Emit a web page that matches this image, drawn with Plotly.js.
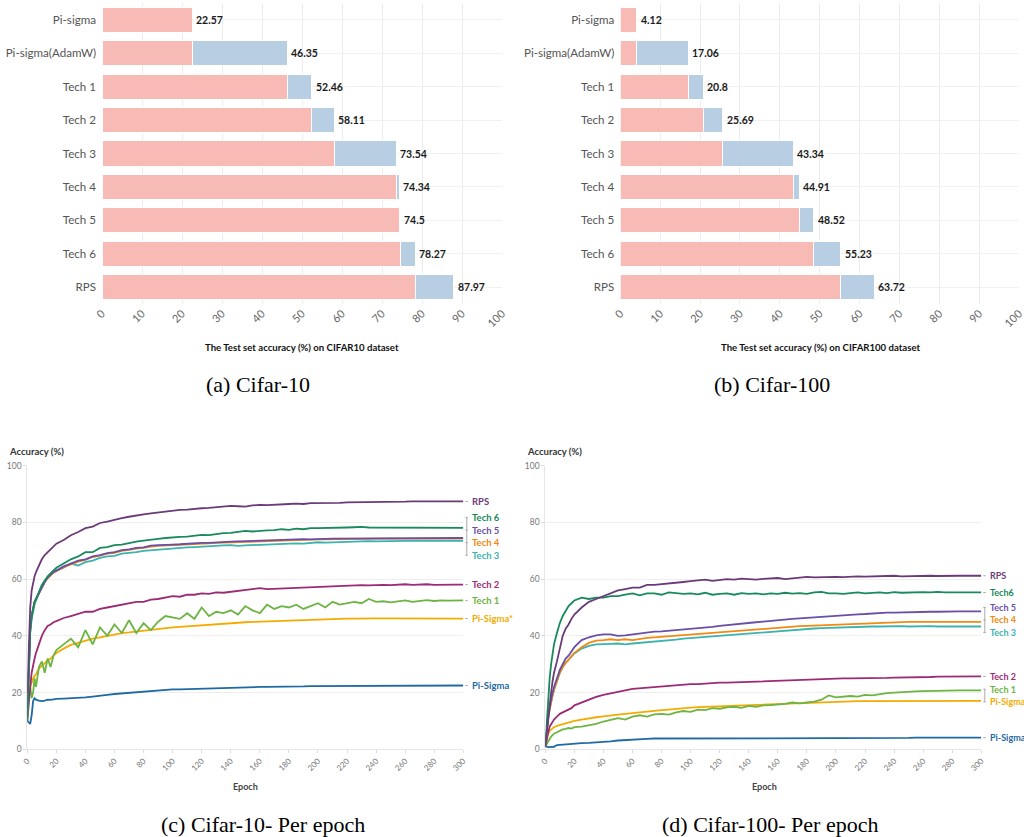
<!DOCTYPE html>
<html>
<head>
<meta charset="utf-8">
<script src="https://cdn.plot.ly/plotly-3.0.1.min.js"></script>
<style>html,body{margin:0;padding:0;background:#fff}#chart{width:1024px;height:837px}</style>
</head>
<body>
<div id="chart"></div>
<script>
// ---------------- DATA ----------------
const categories = ['Pi-sigma','Pi-sigma(AdamW)','Tech 1','Tech 2','Tech 3','Tech 4','Tech 5','Tech 6','RPS'];
const cifar10Acc  = [22.57,46.35,52.46,58.11,73.54,74.34,74.5,78.27,87.97];
const cifar100Acc = [4.12,17.06,20.8,25.69,43.34,44.91,48.52,55.23,63.72];

const epochs = [0,1,2,3,4,5,6,8,10,12,14,16,18,20,
  25,30,35,40,45,50,55,60,65,70,75,80,85,90,95,100,
  105,110,115,120,125,130,135,140,145,150,
  155,160,165,170,175,180,185,190,195,200,
  205,210,215,220,225,230,235,240,245,250,
  255,260,265,270,275,280,285,290,295,300];

const seriesNames10  = ['Pi-Sigma','Pi-Sigma*','Tech 1','Tech 2','Tech 3','Tech 4','Tech 5','Tech 6','RPS'];
const seriesNames100 = ['Pi-Sigma','Pi-Sigma','Tech 1','Tech 2','Tech 3','Tech 4','Tech 5','Tech6','RPS'];

// CIFAR-10 per epoch
const c10_piSigma = [10,9.5,9,12,17,18,17.5,17.2,17,17.2,17.5,17.4,17.6,17.8,
  17.9,18,18.2,18.3,18.6,18.8,19.2,19.5,19.7,20,20.2,20.4,20.6,20.8,21,21.1,
  21.1,21.2,21.3,21.3,21.5,21.6,21.6,21.7,21.8,21.8,
  21.9,22,22,22,22.1,22.1,22.2,22.2,22.3,22.3,
  22.3,22.4,22.4,22.4,22.5,22.5,22.5,22.5,22.5,22.5,
  22.5,22.5,22.5,22.5,22.5,22.5,22.5,22.5,22.5,22.5];
const c10_piSigmaStar = [15,20,22,24,25,25.8,26.5,28.5,29.5,30.5,31.3,32,33,34,
  35.5,36.8,37.5,38.3,39,39.5,40,40.5,41,41.2,41.5,42,42.3,42.5,42.7,43,
  43.2,43.4,43.6,43.8,44,44.2,44.4,44.5,44.7,44.8,
  44.9,45,45.1,45.3,45.4,45.5,45.6,45.7,45.7,45.8,
  45.9,46,46,46.1,46.1,46.2,46.2,46.2,46.2,46.2,
  46.2,46.2,46.2,46.2,46.2,46.1,46.1,46.1,46.1,46.1];
const c10_tech1 = [15,20,22,18,20,25,22,29,31,27,32,29,33,35,
  37,39,36,42,37,43,40,44,41,45.5,41,44.5,42,45,47,46.5,
  46,48,46,50,47,48.5,48,49,47.5,50.5,
  49,48,51,49.5,50.5,50,51,49.5,50.5,51.5,
  50,52,51,51.5,52,51.5,53,52,52.2,51.8,
  52.2,52.5,52,52.4,52.6,52.3,52.5,52.4,52.5,52.5];
const c10_tech2 = [10,18,22,27,30,32,34,37,40,42,43.5,44,44.8,45.2,
  46.3,47,47.8,48.5,48.5,49.5,50,50.5,50.8,51.5,52,52,52.8,53,53.5,54,
  53.8,54.5,54.5,55,54.8,55.3,55.2,55.5,55.8,56,
  56.3,56.8,56.5,56.6,56.8,57,56.9,57.2,57.3,57.2,
  57.4,57.5,57.6,57.8,57.7,57.9,57.8,58,58,57.9,
  58.1,58.2,58,58.1,58.2,58,58.1,58.1,58.1,58.1];
const c10_tech3 = [12,30,41,46,49,51,52.5,55,57.5,59,60.5,61.5,62.3,63,
  64,65.5,64.8,66,66.5,67.5,68,68.2,69,69.2,69.5,70,70.2,70.5,70.6,71,
  71,71.2,71.3,71.5,71.6,71.8,71.9,72,71.7,71.9,
  72,72.2,72.3,72.4,72.3,72.6,72.6,72.5,72.8,73,
  72.9,73,73.1,73.2,73.3,73.3,73.4,73.3,73.4,73.5,
  73.4,73.5,73.5,73.4,73.5,73.5,73.5,73.5,73.5,73.5];
const c10_tech4 = [12,30,42,47,50,52,53,55,57.5,59,60.3,61.3,62.3,62.8,
  64.2,65.2,66.2,66.8,67.8,68.3,69,69.3,70,70.3,70.8,71,71.5,71.7,71.8,72,
  72.1,72.3,72.4,72.5,72.6,72.8,72.9,73,73.1,73.2,
  73.3,73.4,73.5,73.6,73.6,73.7,73.8,73.9,73.9,74,
  74,74.1,74.1,74.1,74.2,74.2,74.3,74.2,74.3,74.3,
  74.3,74.3,74.3,74.3,74.3,74.3,74.3,74.3,74.3,74.3];
const c10_tech5 = [12,30,42,47,50,52,53,55,57.5,59,60.5,61.5,62.5,63,
  64.5,65.5,66.5,67,68,68.5,69.2,69.5,70.2,70.5,71,71.2,71.8,72,72,72.2,
  72.3,72.5,72.6,72.8,72.8,73,73.1,73.2,73.3,73.4,
  73.5,73.6,73.7,73.8,73.8,73.9,74,74.1,74,74.2,
  74.2,74.3,74.3,74.3,74.4,74.4,74.5,74.4,74.4,74.5,
  74.5,74.5,74.4,74.5,74.5,74.5,74.5,74.5,74.5,74.5];
const c10_tech6 = [10,30,42,47,50,52,53,55.5,58,59.5,61,62,63,64,
  65.5,67,68,69.5,69.5,71,71.3,72,72.2,72.8,73.2,73.6,73.8,74.2,74.5,74.8,
  74.9,75,75.4,75.6,75.5,75.9,76.2,76.3,76.6,77,
  76.8,77.1,77.2,77.3,77.6,77.4,77.8,77.6,78,78,
  78,78.1,78.1,78.2,78.3,78.4,78.2,78.2,78.3,78.2,
  78.2,78.3,78.2,78.1,78.2,78.2,78.1,78.2,78.1,78.1];
const c10_rps = [20,40,50,56,59,61,62.5,65,67,68.5,69.5,70.5,71.5,72.5,
  73.8,75.5,76.6,78,78.5,79.8,80.3,81,81.5,82,82.3,82.8,83.2,83.5,83.8,84.2,
  84.4,84.5,84.8,85,85.1,85.4,85.5,85.8,85.7,85.6,
  86,86.2,86.1,86.3,86.4,86.5,86.6,86.5,86.8,86.8,
  86.9,87,86.9,87.1,87.1,87.2,87.1,87.2,87.3,87.2,
  87.3,87.3,87.4,87.3,87.4,87.4,87.4,87.3,87.4,87.4];

// CIFAR-100 per epoch
const c100_piSigma = [1,0.8,0.8,0.8,0.8,0.8,0.9,1.5,1.6,1.7,1.8,1.9,2,2.1,
  2.2,2.3,2.4,2.5,2.8,3.1,3.3,3.5,3.6,3.7,3.8,3.8,3.9,3.9,4,4,
  4,4,4,4,4,4,4,4,4,4,
  4,4,4,4,4,4,4,4,4,4,
  4,4,4,4,4,4,4,4,4,4,
  4.1,4.1,4.1,4.1,4.1,4.1,4.1,4.1,4.1,4.1];
const c100_piSigmaStar = [1,4,5.5,6.5,7,7.5,7.8,8.3,8.6,9,9.3,9.6,9.8,10,
  10.5,11,11.3,11.6,12,12.2,12.5,12.8,13,13.3,13.6,13.8,14,14.3,14.5,14.7,
  14.9,15,15.1,15.3,15.4,15.5,15.6,15.7,15.8,15.9,
  16,16.1,16.2,16.3,16.4,16.5,16.6,16.7,16.8,16.8,
  16.9,16.9,17,17,17,17,17,17.1,17.1,17.1,
  17.1,17.1,17.1,17.1,17.1,17.1,17.1,17.1,17.1,17.1];
const c100_tech1 = [1,2,3,4,4.5,5,5.5,6,6.5,7,7.2,7.5,7.3,7.8,
  8,8.5,9,9.8,10.3,11,10.5,11.5,12,11.5,12.3,12.5,12.2,13,13.5,13.2,
  14,13.8,14.5,14.3,14.8,15,14.6,15.3,15,15.5,
  15.6,15.8,16,16.5,16.2,16.5,16.8,17.5,19,18.3,
  18.5,18.8,18.6,19.2,19,19.5,19.8,20,20.2,20.3,
  20.4,20.5,20.6,20.6,20.7,20.8,20.8,20.8,20.8,20.8];
const c100_tech2 = [1,4,6,8,9,10,10.5,11.5,12.5,13,13.5,14,14.5,15.5,
  16.5,17.5,18.5,19.2,19.8,20.3,20.8,21.3,21.5,21.8,22,22.2,22.5,22.5,22.8,23,
  23,23.2,23.3,23.5,23.5,23.6,23.8,23.9,24,24.1,
  24.2,24.3,24.4,24.5,24.6,24.6,24.7,24.8,24.8,24.9,
  25,25,25,25.1,25.1,25.2,25.2,25.3,25.3,25.4,
  25.4,25.5,25.5,25.6,25.6,25.6,25.7,25.7,25.7,25.7];
const c100_tech3 = [1,7,11,14,17,19,21,24,27,29,30.5,31.5,32.8,33.8,
  35.5,36.5,37,37.2,37.2,37.3,37,37.3,37.5,37.8,38,38.2,38.3,38.7,39,39.2,
  39.4,39.6,39.8,40,40.2,40.5,40.7,41,41.2,41.4,
  41.6,41.8,42,42.1,42.3,42.5,42.6,42.7,42.8,43,
  43,43.1,43.2,43.2,43.3,43.3,43.4,43.3,43.4,43.3,
  43.4,43.3,43.4,43.3,43.3,43.4,43.3,43.3,43.3,43.3];
const c100_tech4 = [1,7,11,14,17,19,21,24,27,29,30.5,31.5,33,34,
  36,37.5,38.3,38.5,38.8,38.5,38.8,38.5,39,39.3,39.5,39.7,39.8,40,40.2,40.5,
  40.7,41,41,41.2,41.5,41.8,42,42.2,42.4,42.6,
  42.8,43,43,43.2,43.4,43.5,43.6,43.8,43.9,44,
  44.1,44.3,44.4,44.5,44.6,44.7,44.8,44.8,44.8,44.9,
  44.9,44.9,44.9,44.9,44.9,44.9,44.9,44.9,44.9,44.9];
const c100_tech5 = [1,8,12,15,18,20,22,25,28,30,32,33,34.5,36,
  38.5,39.5,40.2,40.5,40.5,40,40.2,40.5,41,41.3,41.5,41.6,41.8,42,42.3,42.5,
  42.7,43,43.2,43.5,43.8,44,44.3,44.5,44.8,45,
  45.3,45.6,45.8,46,46.2,46.4,46.5,46.8,47,47.2,
  47.4,47.6,47.6,47.7,47.9,48,48.2,48.2,48.3,48.4,
  48.5,48.5,48.5,48.5,48.6,48.6,48.6,48.6,48.6,48.6];
const c100_tech6 = [1,10,18,25,30,34,37,41,44.5,47,49,50.5,51.5,52.5,
  53.5,53,53.5,53.5,54,54,54.5,55,54.3,55,55,54.5,55.3,55,54.8,55,
  54.6,55.2,54.5,54.8,55,54.5,55.1,54.8,55,54.6,
  55,54.8,55.2,54.9,55.1,54.8,55.3,55.5,55,55,
  54.8,55.1,55.3,55,55.2,55.3,55.1,55.4,55.2,55.3,
  55.3,55.4,55.3,55.5,55.3,55.4,55.3,55.3,55.3,55.3];
const c100_rps = [1,6,12,16,20,24,27,31,36,40,42.5,44,46,47.5,
  50,52,53,54,55,56,56.5,57,57,58,58,58.2,58.5,58.8,59,59.3,
  59.5,59.8,59.4,59.6,60,59.8,60.2,60,59.8,60.1,
  60.2,60.4,60,60.3,60.5,60.8,60.6,60.7,60.8,60.8,
  60.7,60.9,61,60.9,61,61.1,61,61.2,61,61.1,
  61.2,61.1,61.2,61.1,61.2,61.2,61.2,61.2,61.2,61.2];

const c10Series  = [c10_piSigma,c10_piSigmaStar,c10_tech1,c10_tech2,c10_tech3,c10_tech4,c10_tech5,c10_tech6,c10_rps];
const c100Series = [c100_piSigma,c100_piSigmaStar,c100_tech1,c100_tech2,c100_tech3,c100_tech4,c100_tech5,c100_tech6,c100_rps];

// ---------------- STYLE ----------------
const lineColors = ['#1f6aa3','#f4ab00','#6db443','#9b2b74','#3bb3ae','#f08a12','#6a4fa6','#188a5c','#6b3b79'];
const pink = '#f8bab5', blue = '#b8cfe3';
const W = 1024, H = 837;
const px = x => x / W;
const py = y => 1 - y / H;
const FONT = 'Lato, "Source Sans Pro", "Noto Sans", sans-serif';

const traces = [];
const annotations = [];
const shapes = [];

// ---------------- BAR CHARTS ----------------
function addBars(vals, xa, ya) {
  const base = vals.map((v, i) => i === 0 ? v : vals[i - 1]);
  const inc = vals.map((v, i) => i === 0 ? 0 : v - vals[i - 1]);
  traces.push({type:'bar', orientation:'h', x: base, y: categories, xaxis: xa, yaxis: ya,
    marker:{color: pink, line:{color:'#ffffff', width:1}}, hoverinfo:'skip'});
  traces.push({type:'bar', orientation:'h', x: inc, y: categories, xaxis: xa, yaxis: ya,
    marker:{color: blue, line:{color:'#ffffff', width:1}}, hoverinfo:'skip'});
  vals.forEach((v, i) => {
    annotations.push({x: v, y: categories[i], xref: xa, yref: ya, text: String(v), showarrow: false,
      xanchor: 'left', xshift: 2, font: {family: FONT, size: 10.5, color: '#1a1a1a', weight: 700}});
  });
}
addBars(cifar10Acc, 'x', 'y');
addBars(cifar100Acc, 'x2', 'y2');

annotations.push({xref:'paper', yref:'paper', x: px(302), y: py(347), text:'The Test set accuracy (%) on CIFAR10 dataset',
  showarrow:false, xanchor:'center', yanchor:'middle', font:{family:FONT, size:9.6, color:'#111', weight:700}});
annotations.push({xref:'paper', yref:'paper', x: px(820), y: py(347), text:'The Test set accuracy (%) on CIFAR100 dataset',
  showarrow:false, xanchor:'center', yanchor:'middle', font:{family:FONT, size:9.6, color:'#111', weight:700}});

// ---------------- LINE CHARTS ----------------
function spread(vals, gap) {
  let items = vals.map((v, i) => ({v, i})).sort((a, b) => b.v - a.v);
  let groups = items.map(it => ({m: [it]}));
  const center = g => g.m.reduce((s, it) => s + it.v, 0) / g.m.length;
  const top = g => center(g) + gap * (g.m.length - 1) / 2;
  const bottom = g => center(g) - gap * (g.m.length - 1) / 2;
  let merged = true;
  while (merged) {
    merged = false;
    for (let k = 0; k < groups.length - 1; k++) {
      if (bottom(groups[k]) - top(groups[k + 1]) < gap) {
        groups[k].m = groups[k].m.concat(groups[k + 1].m);
        groups.splice(k + 1, 1);
        merged = true;
        break;
      }
    }
  }
  const pos = new Array(vals.length);
  const clusters = [];
  groups.forEach(g => {
    const t = top(g);
    g.m.forEach((it, k) => { pos[it.i] = t - k * gap; });
    if (g.m.length > 1) clusters.push([t, bottom(g)]);
  });
  return {pos, clusters};
}

function addLines(series, names, xa, ya, endPx, fsize) {
  series.forEach((s, k) => {
    traces.push({type:'scatter', mode:'lines', x: epochs, y: s, xaxis: xa, yaxis: ya,
      line:{color: lineColors[k], width: 1.8}, hoverinfo:'skip'});
  });
  const finals = series.map(s => s[s.length - 1]);
  const {pos, clusters} = spread(finals, 4.45);
  pos.forEach((p, k) => {
    annotations.push({xref:'paper', yref: ya, x: px(endPx + 6.5), y: p, text: names[k], showarrow:false,
      xanchor:'left', yanchor:'middle', font:{family:FONT, size:fsize, color: lineColors[k], weight:700}});
    shapes.push({type:'line', xref:'paper', yref: ya, x0: px(endPx + 2), x1: px(endPx + 4.5), y0: p, y1: p,
      line:{color:'#aaaaaa', width:1}});
  });
  clusters.forEach(c => {
    shapes.push({type:'line', xref:'paper', yref: ya, x0: px(endPx + 3.5), x1: px(endPx + 3.5), y0: c[0], y1: c[1],
      line:{color:'#aaaaaa', width:1}});
  });
}
addLines(c10Series, seriesNames10, 'x3', 'y3', 463.3, 9.5);
addLines(c100Series, seriesNames100, 'x4', 'y4', 981.3, 9);

[[7, 'Accuracy (%)'], [525, 'Accuracy (%)']].forEach(([x, t]) => {
  annotations.push({xref:'paper', yref:'paper', x: px(x), y: py(451), text: t, showarrow:false,
    xanchor:'left', yanchor:'middle', font:{family:FONT, size:9.5, color:'#333', weight:700}});
});
[[245, 'Epoch'], [764, 'Epoch']].forEach(([x, t]) => {
  annotations.push({xref:'paper', yref:'paper', x: px(x), y: py(786), text: t, showarrow:false,
    xanchor:'center', yanchor:'middle', font:{family:FONT, size:9, color:'#444', weight:700}});
});

// ---------------- CAPTIONS ----------------
const capFont = {family:'"Liberation Serif", "Times New Roman", serif', size:22, color:'#000'};
[[258, 385, '(a) Cifar-10'], [772, 385, '(b) Cifar-100'], [263, 824, '(c) Cifar-10- Per epoch'], [770, 824, '(d) Cifar-100- Per epoch']]
  .forEach(([x, y, t]) => annotations.push({xref:'paper', yref:'paper', x: px(x), y: py(y), text: t, showarrow:false,
    xanchor:'center', yanchor:'middle', font: capFont}));

// ---------------- AXES ----------------
const barX = dom => ({domain: dom, range:[0,100], dtick:10, tick0:0, tickangle:-45, showgrid:true, gridcolor:'#ececec',
  zeroline:false, showline:false, ticks:'', ticklabeloverflow:'allow', tickfont:{family:FONT, size:11, color:'#666'}, fixedrange:true});
const barY = (dom, anchor) => ({domain: dom, anchor, type:'category', autorange:'reversed', showgrid:true, gridcolor:'#f1f1f1',
  zeroline:false, showline:false, ticks:'', ticklabelstandoff:5, tickfont:{family:FONT, size:11.6, color:'#555'}});
const lineX = (dom, anchor) => ({domain: dom, anchor, range:[0,300], dtick:20, tick0:0, tickangle:-45, showgrid:false,
  zeroline:false, showline:true, linecolor:'#e6e6e6', ticks:'outside', ticklen:3, tickcolor:'#dddddd',
  tickfont:{family:FONT, size:8, color:'#777'}});
const lineY = (dom, anchor) => ({domain: dom, anchor, range:[0,100], dtick:20, tick0:0, showgrid:true, gridcolor:'#eeeeee',
  zeroline:false, showline:true, linecolor:'#e6e6e6', ticks:'outside', ticklen:3, tickcolor:'#dddddd',
  tickfont:{family:FONT, size:8.5, color:'#777'}});

const topY = [py(304), py(3)];
const botY = [py(749.3), py(465.7)];

const layout = {
  width: W, height: H,
  margin:{l:0, r:0, t:0, b:0, pad:0},
  paper_bgcolor:'#ffffff', plot_bgcolor:'#ffffff',
  showlegend:false,
  barmode:'stack', bargap:0.25,
  font:{family:FONT},
  xaxis: Object.assign(barX([px(102), px(502)]), {anchor:'y'}),
  yaxis: barY(topY, 'x'),
  xaxis2: Object.assign(barX([px(620.3), px(1019)]), {anchor:'y2'}),
  yaxis2: barY(topY, 'x2'),
  xaxis3: lineX([px(27.3), px(463.3)], 'y3'),
  yaxis3: lineY(botY, 'x3'),
  xaxis4: lineX([px(545.3), px(981.3)], 'y4'),
  yaxis4: lineY(botY, 'x4'),
  annotations, shapes
};

Plotly.newPlot('chart', traces, layout, {staticPlot:true, displayModeBar:false});
</script>
</body>
</html>
